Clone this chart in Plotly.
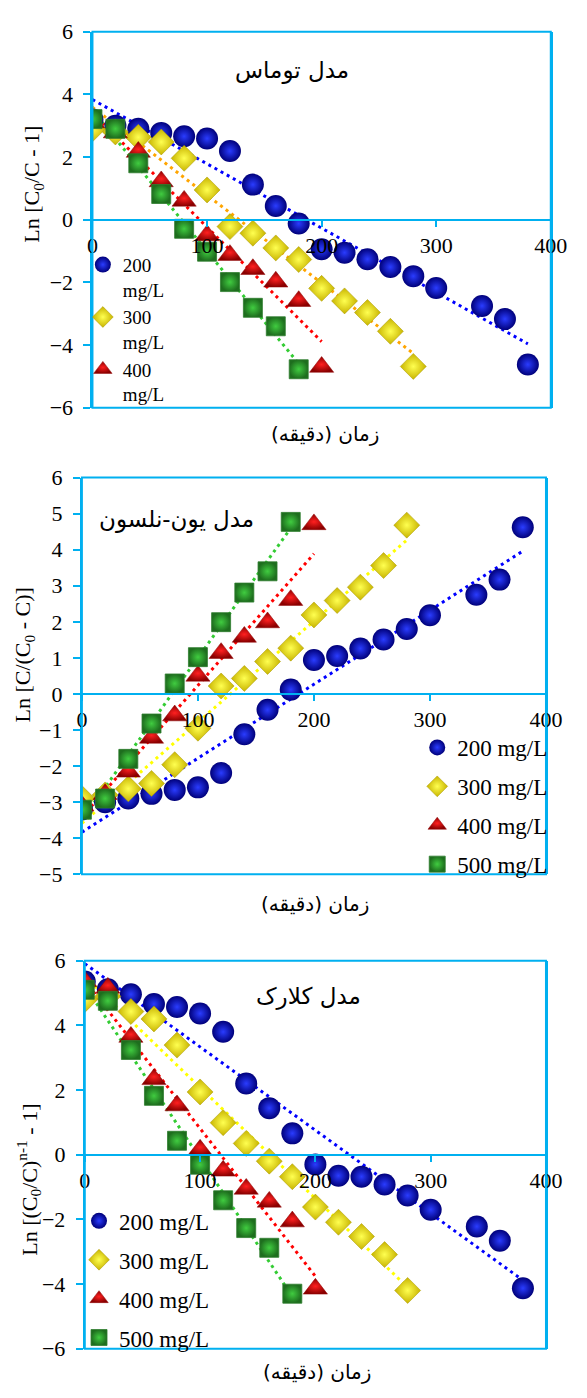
import numpy as np
import plotly.graph_objects as go

W, H = 587, 1398

# ---------------- data ----------------
t200 = [0, 20, 40, 60, 80, 100, 120, 140, 160, 180, 200, 220, 240, 260, 280, 300, 340, 360, 380]
t300 = [0, 20, 40, 60, 80, 100, 120, 140, 160, 180, 200, 220, 240, 260, 280]
t400 = [0, 20, 40, 60, 80, 100, 120, 140, 160, 180, 200]
t500 = [0, 20, 40, 60, 80, 100, 120, 140, 160, 180]

series_labels = ["200 mg/L", "300 mg/L", "400 mg/L", "500 mg/L"]
thomas_labels = ["200<br>mg/L", "300<br>mg/L", "400<br>mg/L", "500<br>mg/L"]

# Thomas model: Ln[C0/C - 1]
thomas_200 = [3.2, 3.0, 2.9, 2.77, 2.66, 2.59, 2.19, 1.12, 0.44, -0.12, -0.94, -1.05, -1.26, -1.51, -1.8, -2.18, -2.75, -3.17, -4.62]
thomas_300 = [2.9, 2.8, 2.63, 2.48, 1.96, 0.95, -0.22, -0.43, -0.9, -1.27, -2.19, -2.59, -2.96, -3.56, -4.68]
thomas_400 = [3.1, 2.78, 2.16, 1.22, 0.6, -0.5, -1.13, -1.58, -1.98, -2.6, -4.7]
thomas_500 = [3.21, 2.9, 1.8, 0.82, -0.29, -1.02, -1.99, -2.81, -3.4, -4.77]

# Yoon-Nelson model: Ln[C/(C0 - C)]
yn_200 = [-3.2, -3.0, -2.9, -2.77, -2.66, -2.59, -2.19, -1.12, -0.44, 0.12, 0.94, 1.05, 1.26, 1.51, 1.8, 2.18, 2.75, 3.17, 4.62]
yn_300 = [-2.9, -2.8, -2.63, -2.48, -1.96, -0.95, 0.22, 0.43, 0.9, 1.27, 2.19, 2.59, 2.96, 3.56, 4.68]
yn_400 = [-3.1, -2.78, -2.16, -1.22, -0.6, 0.5, 1.13, 1.58, 1.98, 2.6, 4.7]
yn_500 = [-3.21, -2.9, -1.8, -0.82, 0.29, 1.02, 1.99, 2.81, 3.4, 4.77]

# Clark model: Ln[(C0/C)^(n-1) - 1]
clark_200 = [5.36, 5.12, 4.96, 4.66, 4.57, 4.37, 3.8, 2.2, 1.44, 0.66, -0.3, -0.65, -0.68, -0.92, -1.26, -1.7, -2.22, -2.66, -4.13]
clark_300 = [4.8, 4.9, 4.43, 4.2, 3.39, 1.94, 0.99, 0.35, -0.2, -0.68, -1.62, -2.09, -2.53, -3.09, -4.2]
clark_400 = [5.36, 5.16, 3.64, 2.33, 1.52, 0.15, -0.5, -1.06, -1.46, -2.07, -4.15]
clark_500 = [5.1, 4.76, 3.24, 1.82, 0.43, -0.31, -1.41, -2.27, -2.88, -4.3]

x_ticks = [0, 100, 200, 300, 400]

panel_titles = ["مدل توماس", "مدل یون-نلسون", "مدل کلارک"]
x_title = "زمان (دقیقه)"
y_titles = ["Ln [C<sub>0</sub>/C - 1]",
            "Ln [C/(C<sub>0</sub> - C)]",
            "Ln [(C<sub>0</sub>/C)<sup>n-1</sup> - 1]"]

# ---------------- styles ----------------
AX = "#00B0F0"
SERIF = "Liberation Serif"
ARAB = "DejaVu Sans"

marker_styles = [
    dict(symbol="circle", size=22, color="#00007A", gradient=dict(type="radial", color="#2A3CFF"), line=dict(width=0)),
    dict(symbol="diamond", size=20, color="#C8B400", gradient=dict(type="radial", color="#FFFF50"), line=dict(width=0.5, color="#A89800")),
    dict(symbol="triangle-up", size=21, color="#8A0000", gradient=dict(type="radial", color="#FF2020"), line=dict(width=0.5, color="#900000")),
    dict(symbol="square", size=19, color="#1E6E1E", gradient=dict(type="radial", color="#40CC40"), line=dict(width=0.8, color="#2E7E2E")),
]

# pixel boxes of plot areas (left, right, top, bottom)
boxes = [(90, 567, 20, 403), (79, 562, 474, 878), (82, 562, 966, 1361)]
yranges = [(-6, 6), (-5, 6), (-6, 6)]
ydticks = [2, 1, 2]

panels = [
    dict(ys=[thomas_200, thomas_300, thomas_400, thomas_500],
         trend=["#0000FF", "#FFA500", "#FF0000", "#33CC33"], labels=thomas_labels,
         legend_show=[True, True, True, False]),
    dict(ys=[yn_200, yn_300, yn_400, yn_500],
         trend=["#0000FF", "#FFFF00", "#FF0000", "#33CC33"], labels=series_labels,
         legend_show=[True, True, True, True]),
    dict(ys=[clark_200, clark_300, clark_400, clark_500],
         trend=["#0000FF", "#FFFF00", "#FF0000", "#33CC33"], labels=series_labels,
         legend_show=[True, True, True, True]),
]
times = [t200, t300, t400, t500]

fig = go.Figure()
layout = dict(width=W, height=H, margin=dict(l=0, r=0, t=0, b=0),
              paper_bgcolor="white", plot_bgcolor="white", showlegend=True)

def px_x(p):
    return p / W

def px_y(p):
    return 1 - p / H

legend_names = ["legend", "legend2", "legend3"]
legend_pos = [(80 / W, px_y(238)), (428 / W, px_y(727)), (76 / W, px_y(1209))]
legend_font = [19, 23, 23]
legend_gap = [0, 6, 6]
shapes = []
annotations = []

for i, pan in enumerate(panels):
    n = "" if i == 0 else str(i + 1)
    xa, ya = "x" + n, "y" + n
    l, r, t, b = boxes[i]
    xdom = [px_x(l), px_x(r)]
    ydom = [px_y(b), px_y(t)]
    y0, y1 = yranges[i]
    zero_pos = ydom[0] + (0 - y0) / (y1 - y0) * (ydom[1] - ydom[0])

    # trendlines (least-squares fits of each series)
    for k in range(4):
        tx = np.array(times[k], dtype=float)
        ty = np.array(pan["ys"][k], dtype=float)
        slope, icpt = np.polyfit(tx, ty, 1)
        xs = np.linspace(tx.min(), tx.max(), 2)
        fig.add_trace(go.Scatter(x=xs, y=slope * xs + icpt, mode="lines", xaxis=xa, yaxis=ya,
                                 line=dict(color=pan["trend"][k], width=3, dash="3px,4px"),
                                 showlegend=False, hoverinfo="skip"))
    # markers
    for k in range(4):
        fig.add_trace(go.Scatter(x=times[k], y=pan["ys"][k], mode="markers", xaxis=xa, yaxis=ya,
                                 marker=marker_styles[k], name=pan["labels"][k],
                                 legendgroup="p%d_%d" % (i, k),
                                 showlegend=pan["legend_show"][k], legend=legend_names[i]))

    layout["xaxis" + n] = dict(domain=xdom, range=[0, 400], anchor="free", position=zero_pos,
                               showline=True, linecolor=AX, linewidth=2, ticks="outside",
                               tickcolor=AX, ticklen=6, tickwidth=2, tickvals=x_ticks,
                               ticklabelstandoff=0,
                               tickfont=dict(family=SERIF, size=22, color="black"),
                               showgrid=False, zeroline=False, fixedrange=True)
    layout["yaxis" + n] = dict(domain=ydom, range=[y0, y1], anchor=xa,
                               showline=True, mirror=True, linecolor=AX, linewidth=2,
                               ticks="outside", tickcolor=AX, ticklen=7, tickwidth=2,
                               dtick=ydticks[i], tick0=0, ticklabelstandoff=6,
                               tickfont=dict(family=SERIF, size=22, color="black"),
                               showgrid=False, zeroline=False, fixedrange=True)
    shapes.append(dict(type="rect", xref=xa + " domain", yref=ya + " domain", x0=0, x1=1, y0=0, y1=1,
                       line=dict(color=AX, width=2), layer="above"))
    lx, ly = legend_pos[i]
    layout[legend_names[i]] = dict(x=lx, y=ly, xanchor="left", yanchor="top", valign="top",
                                   bgcolor="rgba(0,0,0,0)",
                                   font=dict(family=SERIF, size=legend_font[i], color="black"),
                                   itemsizing="trace", tracegroupgap=legend_gap[i], itemwidth=30)

# axis titles and panel titles
ytitle_pos = [(28, 175), (19, 655), (24, 1189)]
for i in range(3):
    annotations.append(dict(text=y_titles[i], textangle=-90, x=px_x(ytitle_pos[i][0]), y=px_y(ytitle_pos[i][1]),
                            xref="paper", yref="paper", xanchor="center", yanchor="middle", showarrow=False,
                            font=dict(family=SERIF, size=22, color="black")))
xtitle_pos = [(332, 430), (322, 908), (324, 1385)]
for i in range(3):
    annotations.append(dict(text=x_title, x=px_x(xtitle_pos[i][0]), y=px_y(xtitle_pos[i][1]),
                            xref="paper", yref="paper", xanchor="center", yanchor="middle",
                            showarrow=False, font=dict(family=ARAB, size=20, color="black")))
title_pos = [(298, 60), (177, 517), (315, 1002)]
for i in range(3):
    annotations.append(dict(text=panel_titles[i], x=px_x(title_pos[i][0]), y=px_y(title_pos[i][1]),
                            xref="paper", yref="paper", xanchor="center", yanchor="middle", showarrow=False,
                            font=dict(family=ARAB, size=23, color="black")))

layout["shapes"] = shapes
layout["annotations"] = annotations
fig.update_layout(**layout)
fig.write_html("out.html")
